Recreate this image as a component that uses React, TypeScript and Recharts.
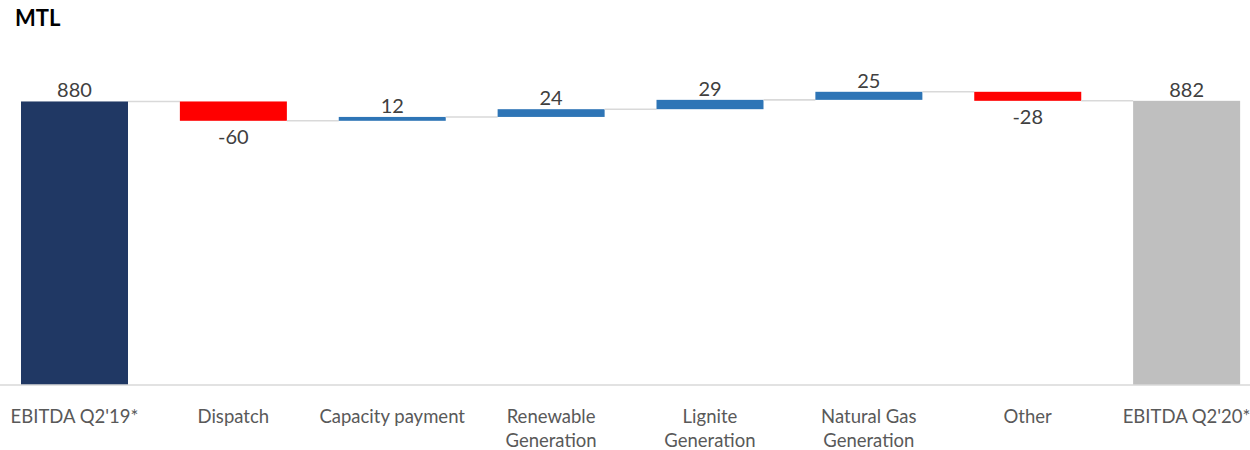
import React from "react";
import { BarChart, Bar, XAxis, YAxis, Cell, LabelList } from "recharts";

const categories = [
  "EBITDA Q2'19*",
  "Dispatch",
  "Capacity payment",
  "Renewable Generation",
  "Lignite Generation",
  "Natural Gas Generation",
  "Other",
  "EBITDA Q2'20*",
];
const tickLines = [
  ["EBITDA Q2'19*"],
  ["Dispatch"],
  ["Capacity payment"],
  ["Renewable", "Generation"],
  ["Lignite", "Generation"],
  ["Natural Gas", "Generation"],
  ["Other"],
  ["EBITDA Q2'20*"],
];
const values = [880, -60, 12, 24, 29, 25, -28, 882];
const isTotal = [true, false, false, false, false, false, false, true];
const barColors = ["#203864", "#FF0000", "#2E75B6", "#2E75B6", "#2E75B6", "#2E75B6", "#FF0000", "#BFBFBF"];

const W = 1250;
const H = 450;
const PAD_L = -5;
const PAD_R = -16;
const BAND = (W - PAD_L - PAD_R) / categories.length;

const data = (() => {
  let cum = 0;
  return categories.map((name, i) => {
    const v = values[i];
    if (isTotal[i]) {
      cum = v;
      return { name, idx: i, value: v, base: 0, bar: v };
    }
    const start = cum;
    const end = cum + v;
    cum = end;
    return { name, idx: i, value: v, base: Math.min(start, end), bar: Math.abs(v) };
  });
})();

const WaterfallShape = (props: any) => {
  const { x, y, width, height, payload } = props;
  const i = payload.idx;
  const level = isTotal[i] || values[i] >= 0 ? y : y + height;
  const gap = BAND - width;
  return (
    <g>
      <rect x={x} y={y} width={width} height={height} fill={barColors[i]} />
      {i < categories.length - 1 && (
        <line x1={x + width} x2={x + width + gap} y1={level} y2={level} stroke="#D9D9D9" strokeWidth={1.6} />
      )}
    </g>
  );
};

const ValueLabel = (props: any) => {
  const { x, y, width, height, value } = props;
  const neg = value < 0;
  const ty = neg ? y + height + 23.5 : y - 4;
  return (
    <text
      x={x + width / 2}
      y={ty}
      textAnchor="middle"
      fill="#404040"
      fontFamily="Lato"
      fontSize={20}
    >
      {value}
    </text>
  );
};

const CategoryTick = (props: any) => {
  const { x, y, payload } = props;
  const lines = tickLines[payload.index] || [payload.value];
  return (
    <g>
      {lines.map((ln: string, k: number) => (
        <text
          key={k}
          x={x}
          y={y + 37.5 + k * 24}
          textAnchor="middle"
          fill="#595959"
          fontFamily="Lato"
          fontSize={18.5}
        >
          {ln}
        </text>
      ))}
    </g>
  );
};

export default function App() {
  return (
    <div style={{ position: "absolute", left: 0, top: 0, width: W, height: H, background: "#fff" }}>
      <div
        style={{
          position: "absolute",
          left: 15,
          top: 6.5,
          fontFamily: "Lato",
          fontWeight: 700,
          fontSize: 22,
          lineHeight: "22px",
          color: "#000",
        }}
      >
        MTL
      </div>
      <BarChart
        width={W}
        height={H}
        data={data}
        barSize={107}
        margin={{ top: 62.8, right: 0, bottom: 0, left: 0 }}
      >
        <XAxis
          dataKey="name"
          interval={0}
          height={65}
          padding={{ left: PAD_L, right: PAD_R }}
          axisLine={{ stroke: "#D9D9D9", strokeWidth: 1.5 }}
          tickLine={false}
          tickSize={0}
          tickMargin={0}
          tick={<CategoryTick />}
        />
        <YAxis hide domain={[0, 1000]} />
        <Bar dataKey="base" stackId="w" fill="transparent" barSize={107} isAnimationActive={false} />
        <Bar
          dataKey="bar"
          stackId="w"
          barSize={107}
          isAnimationActive={false}
          shape={<WaterfallShape />}
        >
          {data.map((d, i) => (
            <Cell key={i} fill={barColors[i]} />
          ))}
          <LabelList dataKey="value" content={<ValueLabel />} />
        </Bar>
      </BarChart>
    </div>
  );
}
